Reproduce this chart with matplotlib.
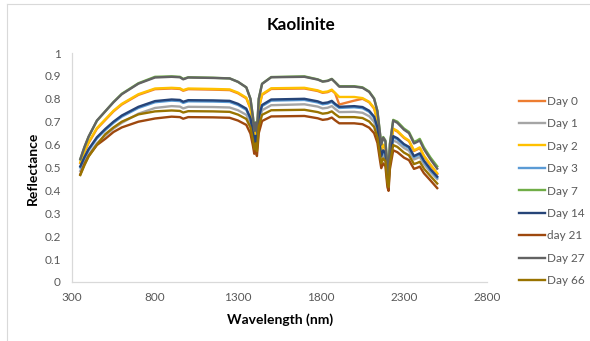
import matplotlib
matplotlib.use("Agg")
import matplotlib.pyplot as plt
from matplotlib.lines import Line2D

plt.rcParams['font.family'] = ['Lato', 'DejaVu Sans']

wavelength = [350, 375, 400, 450, 500, 550, 600, 700, 800, 900, 950, 970, 1000, 1150, 1250,
              1300, 1350, 1375, 1390, 1398, 1406, 1414, 1425, 1445, 1500, 1700, 1780, 1810,
              1840, 1865, 1885, 1910, 2000, 2050, 2090, 2120, 2140, 2155, 2163, 2175, 2188,
              2200, 2207, 2215, 2235, 2260, 2300, 2330, 2360, 2380, 2395, 2420, 2460, 2500]

day0 = [.520, .567, .607, .669, .707, .745, .775, .817, .842, .845, .843, .835, .842, .840, .838,
        .824, .802, .757, .687, .632, .665, .627, .757, .817, .843, .845, .834, .826,
        .829, .837, .824, .775, .792, .800, .785, .757, .705, .617, .570, .597, .584,
        .475, .452, .570, .667, .657, .629, .615, .572, .579, .585, .549, .509, .472]
day1 = [.485, .522, .555, .605, .640, .670, .695, .735, .760, .768, .766, .758, .765, .764, .762,
        .750, .730, .690, .632, .590, .617, .585, .695, .750, .772, .776, .766, .758,
        .761, .768, .756, .742, .743, .739, .724, .699, .653, .573, .533, .557, .545,
        .448, .430, .533, .618, .610, .585, .573, .535, .541, .546, .515, .480, .450]
day2 = [.522, .570, .610, .672, .710, .748, .778, .820, .845, .848, .846, .838, .845, .843, .841,
        .827, .805, .760, .690, .635, .668, .630, .760, .820, .846, .848, .837, .829,
        .832, .840, .826, .808, .808, .803, .787, .760, .708, .620, .573, .600, .587,
        .478, .455, .573, .670, .660, .632, .618, .575, .582, .588, .552, .512, .475]
day3 = [.500, .540, .575, .627, .663, .695, .722, .760, .785, .792, .790, .782, .789, .788, .786,
        .773, .752, .710, .650, .605, .633, .600, .715, .768, .792, .795, .784, .776,
        .779, .786, .773, .760, .763, .759, .743, .717, .670, .587, .545, .570, .557,
        .455, .436, .543, .632, .623, .597, .585, .545, .552, .557, .525, .487, .455]
day7 = [.535, .588, .634, .704, .745, .786, .822, .868, .896, .898, .896, .887, .894, .892, .889,
        .874, .850, .800, .722, .662, .697, .657, .800, .866, .895, .898, .885, .876,
        .879, .887, .873, .855, .855, .850, .832, .802, .747, .652, .603, .633, .618,
        .505, .480, .605, .708, .700, .670, .655, .612, .618, .625, .588, .543, .505]
day14 = [.505, .545, .580, .632, .668, .700, .727, .765, .790, .797, .795, .787, .794, .793, .791,
         .778, .757, .715, .655, .610, .638, .605, .720, .773, .797, .800, .789, .781,
         .784, .791, .778, .765, .768, .764, .748, .722, .675, .592, .550, .575, .562,
         .460, .440, .548, .637, .628, .602, .590, .550, .557, .562, .530, .492, .460]
day21 = [.470, .515, .550, .598, .625, .655, .675, .700, .714, .722, .720, .713, .720, .719, .717,
         .705, .686, .648, .595, .560, .580, .550, .650, .703, .723, .725, .715, .708,
         .711, .718, .706, .693, .693, .689, .674, .650, .607, .533, .497, .518, .506,
         .415, .398, .493, .575, .567, .543, .532, .494, .499, .504, .475, .443, .410]
day27 = [.537, .590, .635, .705, .745, .785, .820, .866, .893, .896, .894, .885, .893, .891, .889,
         .874, .850, .800, .720, .660, .695, .655, .800, .865, .894, .896, .884, .875,
         .878, .886, .872, .853, .853, .848, .830, .800, .745, .650, .600, .630, .615,
         .500, .475, .600, .705, .695, .665, .650, .605, .612, .618, .580, .535, .495]
day66 = [.467, .510, .548, .600, .645, .675, .700, .732, .745, .749, .747, .740, .746, .745, .743,
         .731, .712, .675, .620, .580, .605, .572, .678, .730, .750, .752, .742, .735,
         .738, .745, .733, .720, .720, .716, .701, .677, .632, .556, .518, .540, .528,
         .435, .415, .515, .598, .590, .565, .553, .515, .520, .525, .495, .462, .430]

series_labels = ["Day 0", "Day 1", "Day 2", "Day 3", "Day 7", "Day 14", "day 21", "Day 27", "Day 66"]
series_values = [day0, day1, day2, day3, day7, day14, day21, day27, day66]
colors = ["#ED7D31", "#A5A5A5", "#FFC000", "#5B9BD5", "#70AD47", "#264478", "#9E480E", "#636363", "#997300"]

x_ticks = [300, 800, 1300, 1800, 2300, 2800]
y_ticks = [0, 0.1, 0.2, 0.3, 0.4, 0.5, 0.6, 0.7, 0.8, 0.9, 1]
y_tick_labels = ["0", "0.1", "0.2", "0.3", "0.4", "0.5", "0.6", "0.7", "0.8", "0.9", "1"]

W, H = 590, 341
fig = plt.figure(figsize=(W / 100, H / 100), dpi=100)
ax = fig.add_axes([72 / W, 1 - 282 / H, (487 - 72) / W, (282 - 53) / H])

for lab, vals, c in zip(series_labels, series_values, colors):
    ax.plot(wavelength, vals, color=c, lw=1.7, solid_joinstyle='round')

ax.set_xlim(300, 2800)
ax.set_ylim(0, 1)
ax.set_xticks(x_ticks)
ax.set_xticklabels([str(t) for t in x_ticks])
ax.set_yticks(y_ticks)
ax.set_yticklabels(y_tick_labels)
ax.tick_params(length=0, labelsize=8.5, labelcolor="#595959")
ax.tick_params(axis='y', pad=8)
ax.tick_params(axis='x', pad=7)
for s in ['top', 'right']:
    ax.spines[s].set_visible(False)
for s in ['left', 'bottom']:
    ax.spines[s].set_color("#D9D9D9")
    ax.spines[s].set_linewidth(0.9)

fig.text(301 / W, 1 - 25.5 / H, "Kaolinite", ha='center', va='center', fontsize=12.3, fontweight='bold')
fig.text(280 / W, 1 - 320 / H, "Wavelength (nm)", ha='center', va='center', fontsize=10, fontweight='bold')
fig.text(33 / W, 1 - 168 / H, "Reflectance", ha='center', va='center', rotation=90, fontsize=10, fontweight='bold')

leg_handles = [Line2D([0], [0], color=c, lw=1.7) for c in colors]
fig.legend(leg_handles, series_labels, loc='upper left', bbox_to_anchor=(514 / W, 1 - 91 / H),
           frameon=False, fontsize=8.5, handlelength=2.2, handletextpad=0.2, labelspacing=0.97,
           borderaxespad=0, borderpad=0.4, labelcolor="#595959")

# outer frame lines of the original figure box
fig.add_artist(Line2D([7 / W, 7 / W], [0, 1 - 4 / H], color="#D9D9D9", lw=0.8, transform=fig.transFigure))
fig.add_artist(Line2D([7 / W, 1], [1 - 4 / H, 1 - 4 / H], color="#D9D9D9", lw=0.8, transform=fig.transFigure))

fig.savefig("out.png", dpi=100)
